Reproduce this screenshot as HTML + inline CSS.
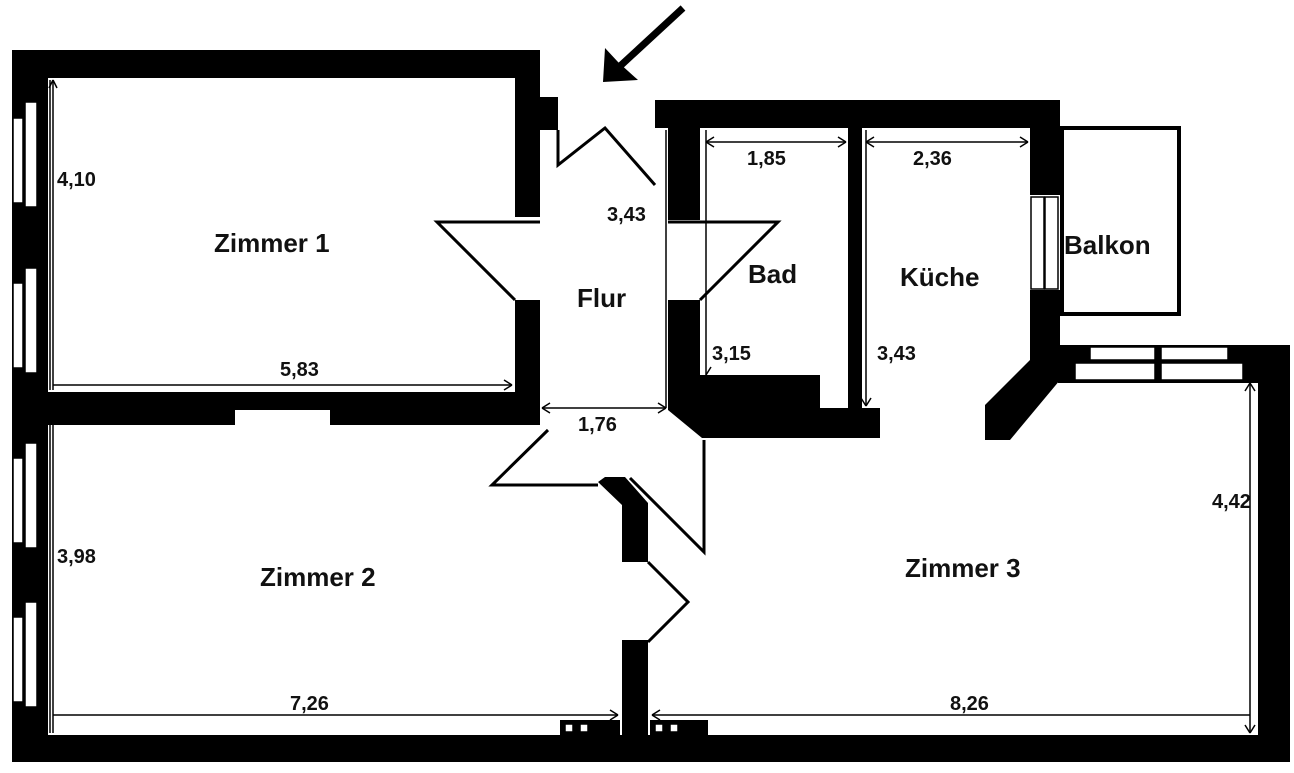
<!DOCTYPE html>
<html><head><meta charset="utf-8"><style>
html,body{margin:0;padding:0;background:#fff;}
svg text{font-family:"Liberation Sans",sans-serif;font-weight:bold;fill:#111;}
</style></head><body>
<svg width="1294" height="768" viewBox="0 0 1294 768" xmlns="http://www.w3.org/2000/svg">
<rect width="1294" height="768" fill="#fff"/>
<g fill="#000">
<rect x="12" y="50" width="528" height="28"/>
<rect x="12" y="50" width="36" height="712"/>
<rect x="515" y="50" width="25" height="167"/>
<rect x="515" y="300" width="25" height="125"/>
<rect x="12" y="392" width="528" height="18"/>
<rect x="12" y="410" width="223" height="15"/>
<rect x="330" y="410" width="210" height="15"/>
<rect x="540" y="97" width="18" height="33"/>
<rect x="655" y="100" width="405" height="28"/>
<rect x="668" y="100" width="32" height="120"/>
<rect x="668" y="300" width="32" height="110"/>
<rect x="848" y="128" width="14" height="280"/>
<rect x="1030" y="100" width="30" height="95"/>
<polygon points="1030,290 1060,290 1060,380 1010,440 985,440 985,405 1030,360"/>
<rect x="1058" y="345" width="232" height="38"/>
<polygon points="668,375 820,375 820,408 880,408 880,438 702,438 668,410"/>
<rect x="1258" y="345" width="32" height="417"/>
<rect x="12" y="735" width="1278" height="27"/>
<polygon points="598,482 605,477 625,477 648,503 648,562 622,562 622,505"/>
<rect x="622" y="640" width="26" height="95"/>
<rect x="560" y="720" width="60" height="15"/>
<rect x="650" y="720" width="58" height="15"/>
</g>
<g fill="#fff" stroke="#000" stroke-width="1.5">
<rect x="13" y="118" width="10" height="85"/><rect x="25" y="102" width="12" height="105"/>
<rect x="13" y="283" width="10" height="85"/><rect x="25" y="268" width="12" height="105"/>
<rect x="13" y="458" width="10" height="85"/><rect x="25" y="443" width="12" height="105"/>
<rect x="13" y="617" width="10" height="85"/><rect x="25" y="602" width="12" height="105"/>
<rect x="1031" y="197" width="13" height="92"/><rect x="1045" y="197" width="13" height="92"/>
<rect x="1090" y="347" width="65" height="13"/><rect x="1161" y="347" width="67" height="13"/>
<rect x="1075" y="363" width="80" height="17"/><rect x="1161" y="363" width="82" height="17"/>
<rect x="565" y="724" width="8" height="8"/><rect x="580" y="724" width="8" height="8"/>
<rect x="655" y="724" width="8" height="8"/><rect x="670" y="724" width="8" height="8"/>
</g>
<rect x="1062" y="128" width="117" height="186" fill="none" stroke="#000" stroke-width="4"/>
<g fill="none" stroke="#000" stroke-width="3">
<polyline points="558,130 558,165 605,128 655,185"/>
<polyline points="540,222 437,222 515,300"/>
<polyline points="668,222 778,222 700,300"/>
<polyline points="548,430 492,485 598,485"/>
<polyline points="630,478 704,552 704,440"/>
<polyline points="648,562 688,602 648,642"/>
</g>
<line x1="683" y1="8" x2="618" y2="68" stroke="#000" stroke-width="7"/>
<polygon points="603,82 605,48 618,62 638,80" fill="#000"/>
<g stroke="#000" stroke-width="1.5" fill="none">
<line x1="50" y1="80" x2="50" y2="390"/>
<line x1="53" y1="80" x2="53" y2="390"/>
<line x1="53" y1="385" x2="512" y2="385"/>
<line x1="50" y1="425" x2="50" y2="733"/>
<line x1="53" y1="425" x2="53" y2="733"/>
<line x1="53" y1="715" x2="618" y2="715"/>
<line x1="652" y1="715" x2="1250" y2="715"/>
<line x1="1250" y1="383" x2="1250" y2="733"/>
<line x1="666" y1="130" x2="666" y2="408"/>
<line x1="542" y1="408" x2="666" y2="408"/>
<line x1="706" y1="142" x2="846" y2="142"/>
<line x1="706" y1="130" x2="706" y2="375"/>
<line x1="866" y1="142" x2="1028" y2="142"/>
<line x1="866" y1="130" x2="866" y2="406"/>
<path d="M53,80 l-4,8 M53,80 l4,8 M512,385 l-8,-5 M512,385 l-8,5 M618,715 l-8,-5 M618,715 l-8,5 M652,715 l8,-5 M652,715 l8,5 M1250,383 l-5,8 M1250,383 l5,8 M1250,733 l-5,-8 M1250,733 l5,-8 M542,408 l8,-5 M542,408 l8,5 M666,408 l-8,-5 M666,408 l-8,5 M706,142 l8,-5 M706,142 l8,5 M846,142 l-8,-5 M846,142 l-8,5 M866,142 l8,-5 M866,142 l8,5 M1028,142 l-8,-5 M1028,142 l-8,5 M706,375 l5,-8 M866,406 l5,-8 M866,406 l-5,-8"/>
</g>
<g font-size="26">
<text x="214" y="252">Zimmer 1</text>
<text x="577" y="307">Flur</text>
<text x="748" y="283">Bad</text>
<text x="900" y="286">Küche</text>
<text x="1064" y="254">Balkon</text>
<text x="260" y="586">Zimmer 2</text>
<text x="905" y="577">Zimmer 3</text>
</g>
<g font-size="20">
<text x="57" y="186">4,10</text>
<text x="280" y="376">5,83</text>
<text x="607" y="221">3,43</text>
<text x="747" y="165">1,85</text>
<text x="913" y="165">2,36</text>
<text x="712" y="360">3,15</text>
<text x="877" y="360">3,43</text>
<text x="578" y="431">1,76</text>
<text x="57" y="563">3,98</text>
<text x="290" y="710">7,26</text>
<text x="950" y="710">8,26</text>
<text x="1212" y="508">4,42</text>
</g>
</svg>
</body></html>
